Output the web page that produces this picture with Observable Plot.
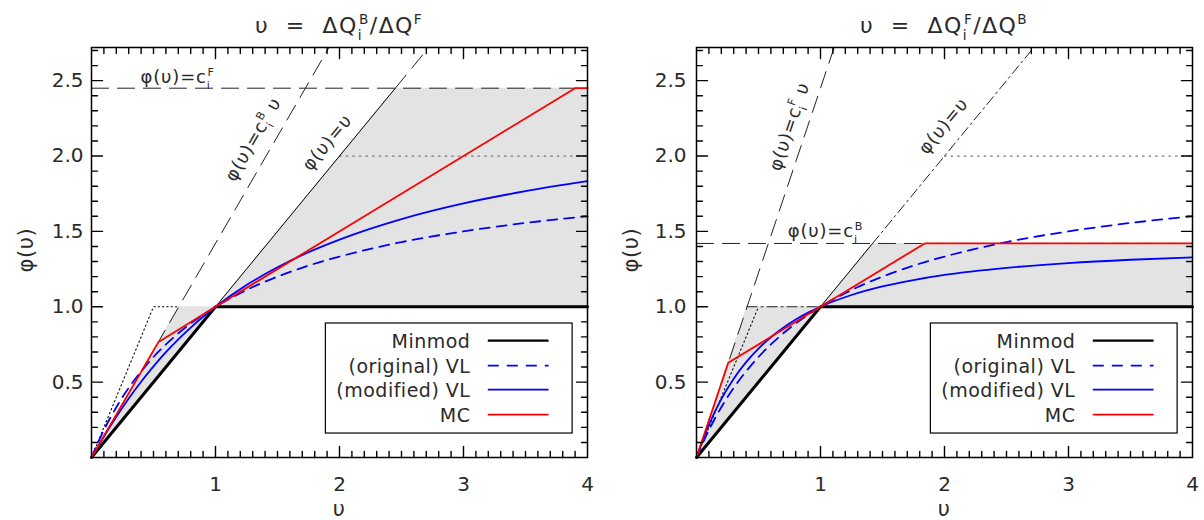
<!DOCTYPE html>
<html>
<head>
<meta charset="utf-8">
<script src="https://cdn.jsdelivr.net/npm/d3@7"></script>
<script src="https://cdn.jsdelivr.net/npm/@observablehq/plot@0.6"></script>
<style>
  body { margin: 0; background: #fff; }
  #wrap { position: relative; width: 1204px; height: 520px; display: flex; }
  #wrap > div { width: 602px; height: 520px; }
  svg text { white-space: pre; }
</style>
</head>
<body>
<div id="wrap"><div id="left"></div><div id="right"></div></div>
<script>
// Slope-limiter functions φ(υ) on a non-uniform grid.

// sample points of the smooth van Leer curves
const nuGrid       = [0, 0.05, 0.1, 0.2, 0.3, 0.4, 0.5, 0.6, 0.7, 0.8, 0.9, 1, 1.25, 1.5, 1.75, 2, 2.5, 3, 3.5, 4];
const vlOriginal   = [0, 0.095, 0.182, 0.333, 0.462, 0.571, 0.667, 0.750, 0.824, 0.889, 0.947, 1, 1.111, 1.200, 1.273, 1.333, 1.429, 1.500, 1.556, 1.600];
const vlModifiedBF = [0, 0.070, 0.139, 0.270, 0.392, 0.503, 0.605, 0.699, 0.784, 0.862, 0.934, 1, 1.144, 1.262, 1.362, 1.446, 1.582, 1.686, 1.767, 1.833];
const vlModifiedFB = [0, 0.115, 0.217, 0.387, 0.523, 0.633, 0.723, 0.798, 0.861, 0.915, 0.961, 1, 1.078, 1.135, 1.177, 1.211, 1.258, 1.290, 1.312, 1.328];

// piecewise-linear limiters
const minmodNu  = [0, 1, 4];
const minmodPhi = [0, 1, 1];
const mcBFNu  = [0, 0.538, 1, 3.9, 4];
const mcBFPhi = [0, 0.764, 1, 2.45, 2.45];
const mcFBNu  = [0, 0.256, 1, 1.84, 4];
const mcFBPhi = [0, 0.628, 1, 1.42, 1.42];

// shaded admissible region (lower / upper edge)
const regionBFNu   = [0, 0.704, 1, 2.45, 4];
const regionBFLow  = [0, 0.704, 1, 1, 1];
const regionBFHigh = [0, 1, 1, 2.45, 2.45];
const regionFBNu   = [0, 0.408, 1, 1.42, 4];
const regionFBLow  = [0, 0.408, 1, 1, 1];
const regionFBHigh = [0, 1, 1, 1.42, 1.42];

// reference lines as [υ, φ] vertices
const levelCF_BF   = [[0, 2.45], [4, 2.45]];
const slopeCB_BF   = [[0, 0], [1.915, 2.72]];
const diagSolidBF  = [[1, 1], [2.45, 2.45]];
const diagDashBF   = [[2.45, 2.45], [2.72, 2.72]];
const sweebyLowBF  = [[0, 0], [0.5, 1], [0.704, 1]];
const levelCB_FB   = [[0, 1.42], [4, 1.42]];
const slopeCF_FB   = [[0, 0], [1.11, 2.72]];
const diagSolidFB  = [[1, 1], [1.42, 1.42]];
const diagDashFB   = [[1.42, 1.42], [2.72, 2.72]];
const unitDashFB   = [[0.408, 1], [1, 1]];
const sweebyLowFB  = [[0, 0], [0.5, 1]];
const sweebyTop    = [[2, 2], [4, 2]];

// axes
const X_DOMAIN = [0, 4];
const Y_DOMAIN = [0, 2.72];
const xTickLabels = [1, 2, 3, 4];
const yTickLabels = [0.5, 1.0, 1.5, 2.0, 2.5];
const xMinorSteps = d3.range(1, 40);
const yMinorSteps = d3.range(1, 28);

const legendNames = ["Minmod", "(original) VL", "(modified) VL", "MC"];

const FONT = "'DejaVu Sans', sans-serif";
const INK = "#2a2a2a";
const LONG_DASH = "17,9";
const BLUE_DASH = "10,7";
const DASH_DOT = "10,4,2,4";

const W = 602, H = 520, MT = 47, MB = 63;

const pts = arr => arr.map(([x, y]) => ({x, y}));
const zipRows = (xs, ys) => xs.map((x, i) => ({x, y: ys[i]}));

function mathLabel(svg, x, y, parts, {size = 17, angle = 0, anchor = "start", spacing = 0.6} = {}) {
  const t = d3.select(svg).append("text")
    .attr("transform", `translate(${x},${y}) rotate(${angle})`)
    .attr("text-anchor", anchor)
    .attr("font-family", FONT)
    .attr("font-size", size)
    .attr("letter-spacing", spacing)
    .attr("fill", INK);
  for (const p of parts) {
    const s = t.append("tspan").text(p.t);
    if (p.small) s.attr("font-size", size * 0.62);
    if (p.dx) s.attr("dx", p.dx * size);
    if (p.dy) s.attr("dy", p.dy * size);
  }
  return t;
}

// tick segments along the four frame sides as line-mark rows (one z group per tick)
function tickSegments(ml, mr) {
  const kx = (X_DOMAIN[1] - X_DOMAIN[0]) / (W - ml - mr);
  const ky = (Y_DOMAIN[1] - Y_DOMAIN[0]) / (H - MT - MB);
  const rows = [];
  let id = 0;
  const seg = (x1, y1, x2, y2) => { rows.push({x: x1, y: y1, k: id}, {x: x2, y: y2, k: id}); id++; };
  for (const s of xMinorSteps) {
    const v = s / 10, len = (s % 10 === 0 ? 11 : 6) * ky;
    seg(v, Y_DOMAIN[0], v, Y_DOMAIN[0] + len);
    seg(v, Y_DOMAIN[1], v, Y_DOMAIN[1] - len);
  }
  for (const s of yMinorSteps) {
    const v = s / 10, len = (s % 5 === 0 ? 11 : 6) * kx;
    seg(X_DOMAIN[0], v, X_DOMAIN[0] + len, v);
    seg(X_DOMAIN[1], v, X_DOMAIN[1] - len, v);
  }
  return rows;
}

function panel(el, cfg) {
  const region = cfg.regionNu.map((x, i) => ({x, lo: cfg.regionLow[i], hi: cfg.regionHigh[i]}));
  const plot = Plot.plot({
    width: W, height: H,
    marginLeft: cfg.ml, marginRight: cfg.mr, marginTop: MT, marginBottom: MB,
    x: {domain: X_DOMAIN},
    y: {domain: Y_DOMAIN},
    style: {fontFamily: FONT, fontSize: "20px", color: INK, background: "transparent"},
    marks: [
      Plot.areaY(region, {x: "x", y1: "lo", y2: "hi", fill: "#e3e3e3", curve: "linear"}),
      Plot.line(pts(cfg.sweebyLow), {x: "x", y: "y", stroke: "#000", strokeWidth: 1.1, strokeDasharray: "1.3,3"}),
      Plot.line(pts(sweebyTop), {x: "x", y: "y", stroke: "#777", strokeWidth: 1.3, strokeDasharray: "1.6,5"}),
      Plot.line(pts(cfg.level), {x: "x", y: "y", stroke: "#222", strokeWidth: 1, strokeDasharray: LONG_DASH}),
      Plot.line(pts(cfg.slope), {x: "x", y: "y", stroke: "#222", strokeWidth: 1, strokeDasharray: LONG_DASH}),
      Plot.line(pts(cfg.diagSolid), {x: "x", y: "y", stroke: "#000", strokeWidth: 1}),
      Plot.line(pts(cfg.diagDash), {x: "x", y: "y", stroke: "#222", strokeWidth: 1, strokeDasharray: cfg.diagDashStyle}),
      ...(cfg.unitDash ? [Plot.line(pts(cfg.unitDash), {x: "x", y: "y", stroke: "#222", strokeWidth: 1, strokeDasharray: DASH_DOT})] : []),
      Plot.line(zipRows(minmodNu, minmodPhi), {x: "x", y: "y", stroke: "#000", strokeWidth: 3}),
      Plot.line(zipRows(nuGrid, vlOriginal), {x: "x", y: "y", stroke: "#0000ff", strokeWidth: 1.8, strokeDasharray: BLUE_DASH, curve: "monotone-x"}),
      Plot.line(zipRows(nuGrid, cfg.vlModified), {x: "x", y: "y", stroke: "#0000ff", strokeWidth: 1.8, curve: "monotone-x"}),
      Plot.line(zipRows(cfg.mcNu, cfg.mcPhi), {x: "x", y: "y", stroke: "#ff0000", strokeWidth: 1.8}),
      Plot.line(tickSegments(cfg.ml, cfg.mr), {x: "x", y: "y", z: "k", stroke: "#000", strokeWidth: 1.4}),
      Plot.axisX(xTickLabels, {anchor: "bottom", tickSize: 0, tickPadding: 19, tickFormat: d3.format("d"), label: null, fontSize: 20}),
      Plot.axisY(yTickLabels, {anchor: "left", tickSize: 0, tickPadding: cfg.yPad, tickFormat: d3.format(".1f"), label: null, fontSize: 20}),
      Plot.frame({stroke: "#000", strokeWidth: 1.5})
    ]
  });
  el.append(plot);

  const sx = plot.scale("x"), sy = plot.scale("y");
  const X = v => sx.apply(v), Y = v => sy.apply(v);
  const svg = plot;
  const cx = (X(0) + X(4)) / 2;

  // title
  mathLabel(svg, cx, 33, [
    {t: "υ  =  ΔQ"}, {t: "i", small: true, dy: 0.3}, {t: cfg.titleA, small: true, dx: -0.17, dy: -0.72},
    {t: "/ΔQ", dy: 0.42}, {t: cfg.titleB, small: true, dy: -0.42}
  ], {size: 22, anchor: "middle", spacing: 1.4});

  // axis titles
  mathLabel(svg, cx, 516, [{t: "υ"}], {size: 21, anchor: "middle"});
  mathLabel(svg, cfg.ml - 58, 250, [{t: "φ(υ)"}], {size: 21, anchor: "middle", angle: -90});

  // line annotations
  for (const a of cfg.notes) {
    mathLabel(svg, X(a.x), Y(a.y), a.parts, {size: 18, angle: a.angle, spacing: 0.8});
  }

  // legend
  const g = d3.select(svg).append("g");
  g.append("rect")
    .attr("x", X(1.89)).attr("y", Y(0.889))
    .attr("width", X(3.88) - X(1.89)).attr("height", Y(0.159) - Y(0.889))
    .attr("fill", "#fff").attr("stroke", "#000").attr("stroke-width", 1.2);
  const rowPhi = [0.772, 0.606, 0.447, 0.281];
  const styles = [
    {stroke: "#000", width: 2.2, dash: null},
    {stroke: "#0000ff", width: 1.8, dash: "11,8"},
    {stroke: "#0000ff", width: 1.8, dash: null},
    {stroke: "#ff0000", width: 1.8, dash: null}
  ];
  legendNames.forEach((name, i) => {
    const yy = Y(rowPhi[i]);
    g.append("text").attr("x", X(3.06)).attr("y", yy + 7)
      .attr("text-anchor", "end").attr("font-family", FONT)
      .attr("font-size", 19).attr("letter-spacing", 0.5).attr("fill", INK).text(name);
    const ln = g.append("line").attr("x1", X(3.2)).attr("x2", X(3.69)).attr("y1", yy).attr("y2", yy)
      .attr("stroke", styles[i].stroke).attr("stroke-width", styles[i].width);
    if (styles[i].dash) ln.attr("stroke-dasharray", styles[i].dash);
  });
}

panel(document.getElementById("left"), {
  ml: 91, mr: 15, yPad: 8,
  regionNu: regionBFNu, regionLow: regionBFLow, regionHigh: regionBFHigh,
  sweebyLow: sweebyLowBF, level: levelCF_BF, slope: slopeCB_BF,
  diagSolid: diagSolidBF, diagDash: diagDashBF, diagDashStyle: LONG_DASH, unitDash: null,
  vlModified: vlModifiedBF, mcNu: mcBFNu, mcPhi: mcBFPhi,
  titleA: "B", titleB: "F",
  notes: [
    {x: 0.40, y: 2.48, angle: 0, parts: [{t: "φ(υ)=c"}, {t: "i", small: true, dy: 0.3}, {t: "F", small: true, dx: -0.17, dy: -0.72}]},
    {x: 1.16, y: 1.82, angle: -59.9, parts: [{t: "φ(υ)=c"}, {t: "i", small: true, dy: 0.3}, {t: "B", small: true, dx: -0.17, dy: -0.72}, {t: " υ", dy: 0.42}]},
    {x: 1.77, y: 1.89, angle: -50.5, parts: [{t: "φ(υ)=υ"}]}
  ]
});

panel(document.getElementById("right"), {
  ml: 94, mr: 12, yPad: 10,
  regionNu: regionFBNu, regionLow: regionFBLow, regionHigh: regionFBHigh,
  sweebyLow: sweebyLowFB, level: levelCB_FB, slope: slopeCF_FB,
  diagSolid: diagSolidFB, diagDash: diagDashFB, diagDashStyle: DASH_DOT, unitDash: unitDashFB,
  vlModified: vlModifiedFB, mcNu: mcFBNu, mcPhi: mcFBPhi,
  titleA: "F", titleB: "B",
  notes: [
    {x: 0.74, y: 1.457, angle: 0, parts: [{t: "φ(υ)=c"}, {t: "i", small: true, dy: 0.3}, {t: "B", small: true, dx: -0.17, dy: -0.72}]},
    {x: 0.68, y: 1.89, angle: -71.4, parts: [{t: "φ(υ)=c"}, {t: "i", small: true, dy: 0.3}, {t: "F", small: true, dx: -0.17, dy: -0.72}, {t: " υ", dy: 0.42}]},
    {x: 1.86, y: 2.0, angle: -50.5, parts: [{t: "φ(υ)=υ"}]}
  ]
});
</script>
</body>
</html>
